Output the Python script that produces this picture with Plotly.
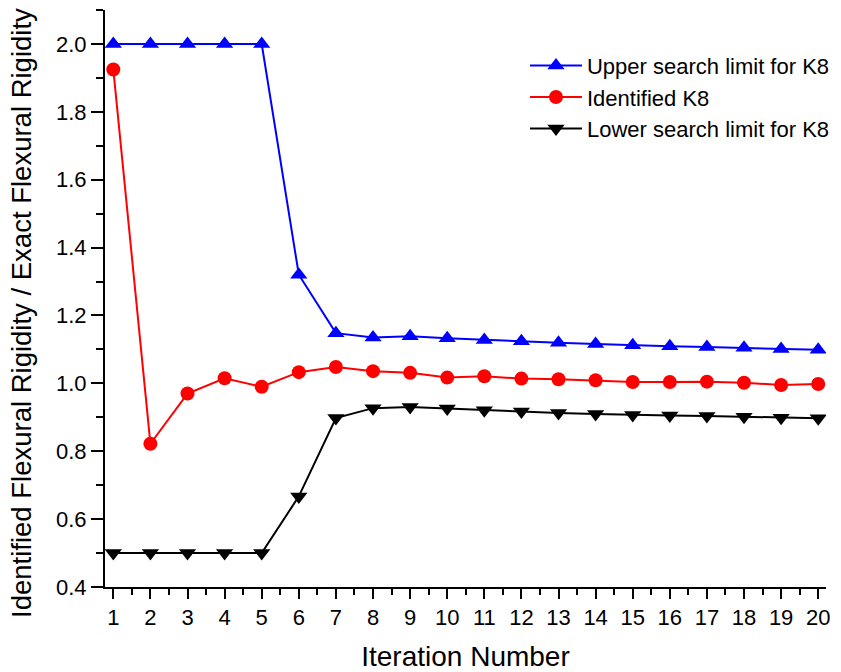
import plotly.graph_objects as go

# Iteration-by-iteration search bounds and identified value for K8
iterations = list(range(1, 21))
upper_limit = [2.0, 2.0, 2.0, 2.0, 2.0, 1.32, 1.148, 1.135, 1.139, 1.133,
               1.128, 1.124, 1.12, 1.116, 1.112, 1.109, 1.107, 1.105, 1.101, 1.099]
identified_k8 = [1.925, 0.822, 0.97, 1.015, 0.99, 1.033, 1.048, 1.036, 1.031, 1.017,
                 1.021, 1.014, 1.012, 1.009, 1.004, 1.004, 1.005, 1.002, 0.995, 0.998]
lower_limit = [0.5, 0.5, 0.5, 0.5, 0.5, 0.667, 0.898, 0.927, 0.93, 0.926,
               0.921, 0.917, 0.913, 0.91, 0.907, 0.905, 0.904, 0.902, 0.899, 0.897]

series_names = ["Upper search limit for K8", "Identified K8", "Lower search limit for K8"]
x_title = "Iteration Number"
y_title = "Identified Flexural Rigidity / Exact Flexural Rigidity"

FONT = "Arial, 'Liberation Sans', sans-serif"

fig = go.Figure()
fig.add_trace(go.Scatter(
    x=iterations, y=upper_limit, name=series_names[0], mode="lines+markers",
    line=dict(color="#0000ff", width=2),
    marker=dict(symbol="triangle-up", size=15, color="#0000ff"),
))
fig.add_trace(go.Scatter(
    x=iterations, y=identified_k8, name=series_names[1], mode="lines+markers",
    line=dict(color="#ff0000", width=2),
    marker=dict(symbol="circle", size=14, color="#ff0000"),
))
fig.add_trace(go.Scatter(
    x=iterations, y=lower_limit, name=series_names[2], mode="lines+markers",
    line=dict(color="#000000", width=2),
    marker=dict(symbol="triangle-down", size=15, color="#000000"),
))

fig.update_layout(
    width=841, height=672,
    margin=dict(l=105, r=15, t=10, b=85, autoexpand=False),
    paper_bgcolor="white", plot_bgcolor="white",
    font=dict(family=FONT, color="black", size=22),
    showlegend=True,
    legend=dict(
        x=0.5825, y=0.94, xanchor="left", yanchor="top",
        bgcolor="rgba(0,0,0,0)", borderwidth=0,
        font=dict(family=FONT, size=22, color="black"),
        itemwidth=52, tracegroupgap=0,
    ),
    # vertical axis title placed as an annotation so it can sit slightly below centre
    annotations=[dict(
        text=y_title, textangle=-90, xref="paper", yref="paper",
        x=-0.115, y=0.475, xanchor="center", yanchor="middle", showarrow=False,
        font=dict(family=FONT, size=27.5, color="black"),
    )],
)

fig.update_xaxes(
    range=[0.776, 20.21], tickmode="linear", tick0=1, dtick=1,
    showline=True, linecolor="black", linewidth=2, mirror=False,
    showgrid=False, zeroline=False,
    ticks="outside", ticklen=10, tickwidth=2, tickcolor="black",
    tickfont=dict(family=FONT, size=22, color="black"),
    minor=dict(ticks="outside", ticklen=6, tickwidth=2, tickcolor="black",
               dtick=0.5, tick0=0.5, showgrid=False),
    title=dict(text=x_title, font=dict(family=FONT, size=28, color="black"),
               standoff=20),
    automargin=False,
)
fig.update_yaxes(
    range=[0.4, 2.1001], tickmode="linear", tick0=0.4, dtick=0.2, tickformat=".1f",
    showline=True, linecolor="black", linewidth=2, mirror=False,
    showgrid=False, zeroline=False,
    ticks="outside", ticklen=12, tickwidth=2, tickcolor="black",
    tickfont=dict(family=FONT, size=22, color="black"),
    minor=dict(ticks="outside", ticklen=7, tickwidth=2, tickcolor="black",
               dtick=0.1, tick0=0.4, showgrid=False),
    automargin=False,
)

fig.write_html("out.html")
